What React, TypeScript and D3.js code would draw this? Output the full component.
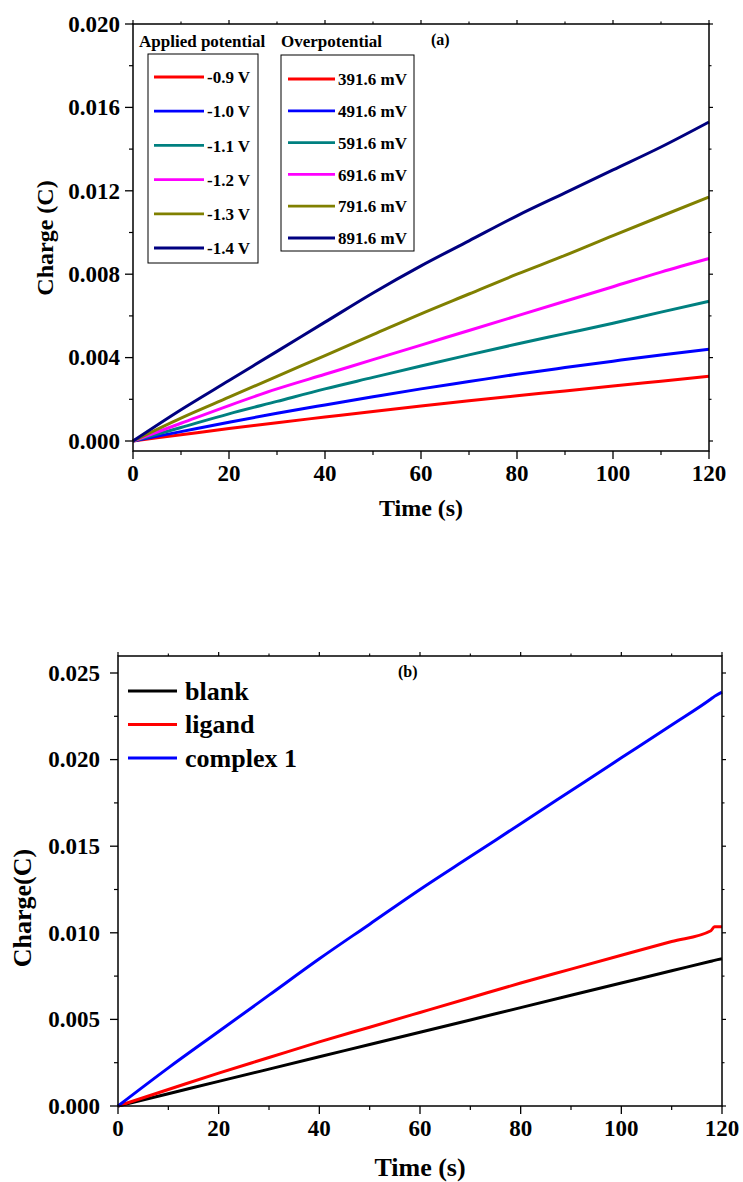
import React from 'react';
import * as d3 from 'd3';

// ---------- Data: panel (a) ----------
const timeA = [0, 10, 20, 30, 40, 50, 60, 70, 80, 90, 100, 110, 120];
const charge09 = [0, 0.0003, 0.0006, 0.00088, 0.00115, 0.00142, 0.00168, 0.00193, 0.00217, 0.0024, 0.00264, 0.00287, 0.0031];
const charge10 = [0, 0.00045, 0.0009, 0.00133, 0.00173, 0.00212, 0.0025, 0.00285, 0.0032, 0.00352, 0.00383, 0.00413, 0.0044];
const charge11 = [0, 0.00065, 0.0013, 0.0019, 0.0025, 0.00305, 0.0036, 0.00413, 0.00465, 0.00515, 0.00565, 0.00618, 0.0067];
const charge12 = [0, 0.00085, 0.0017, 0.0025, 0.0032, 0.0039, 0.0046, 0.0053, 0.006, 0.0067, 0.0074, 0.0081, 0.00875];
const charge13 = [0, 0.0011, 0.0021, 0.0031, 0.0041, 0.0051, 0.0061, 0.00705, 0.008, 0.0089, 0.00985, 0.01078, 0.0117];
const charge14 = [0, 0.0015, 0.0029, 0.0043, 0.0057, 0.0071, 0.0084, 0.0096, 0.0108, 0.0119, 0.013, 0.0141, 0.0153];
const appliedLabels = ['-0.9 V', '-1.0 V', '-1.1 V', '-1.2 V', '-1.3 V', '-1.4 V'];
const overLabels = ['391.6 mV', '491.6 mV', '591.6 mV', '691.6 mV', '791.6 mV', '891.6 mV'];
const colorsA = ['#ff0000', '#0000ff', '#008080', '#ff00ff', '#808000', '#000080'];
const xTicksA = [0, 20, 40, 60, 80, 100, 120];
const yTicksA = [0, 0.004, 0.008, 0.012, 0.016, 0.02];

// ---------- Data: panel (b) ----------
const timeB = [0, 10, 20, 30, 40, 50, 60, 70, 80, 90, 100, 110, 117.8, 118.5, 120];
const chargeBlank = [0, 0.00071, 0.00142, 0.00213, 0.00284, 0.00355, 0.00426, 0.00497, 0.00568, 0.00639, 0.0071, 0.00781, 0.00836, 0.00841, 0.0085];
const chargeLigand = [0, 0.00095, 0.0019, 0.0028, 0.0037, 0.00455, 0.0054, 0.00625, 0.0071, 0.0079, 0.0087, 0.0095, 0.01012, 0.01035, 0.01035];
const chargeComplex = [0, 0.0022, 0.0043, 0.0064, 0.0085, 0.0105, 0.0125, 0.0144, 0.0163, 0.0182, 0.0201, 0.022, 0.0235, 0.02365, 0.0239];
const labelsB = ['blank', 'ligand', 'complex 1'];
const colorsB = ['#000000', '#ff0000', '#0000ff'];
const xTicksB = [0, 20, 40, 60, 80, 100, 120];
const yTicksB = [0, 0.005, 0.01, 0.015, 0.02, 0.025];

const FONT = "'Liberation Serif', 'Times New Roman', serif";

type Frame = { x0: number; x1: number; yTop: number; yBot: number };

function Axes({ x, y, frame, xTicks, yTicks, xMinor, yMinor, fontSize, yLabelGap }: any) {
  const f: Frame = frame;
  const els: any[] = [];
  const fmt = d3.format('.3f');
  xTicks.forEach((t: number, i: number) => {
    const px = x(t);
    els.push(<line key={'xb' + i} x1={px} x2={px} y1={f.yBot} y2={f.yBot + 8} stroke="#000" strokeWidth={1.3} />);
    els.push(<line key={'xt' + i} x1={px} x2={px} y1={f.yTop} y2={f.yTop - 4} stroke="#000" strokeWidth={1.2} />);
    els.push(
      <text key={'xl' + i} x={px} y={f.yBot + 30} textAnchor="middle" fontFamily={FONT} fontWeight="bold" fontSize={fontSize}>
        {t}
      </text>
    );
  });
  xMinor.forEach((t: number, i: number) => {
    const px = x(t);
    els.push(<line key={'xmb' + i} x1={px} x2={px} y1={f.yBot} y2={f.yBot + 4} stroke="#000" strokeWidth={1.2} />);
    els.push(<line key={'xmt' + i} x1={px} x2={px} y1={f.yTop} y2={f.yTop - 2.5} stroke="#000" strokeWidth={1.1} />);
  });
  yTicks.forEach((t: number, i: number) => {
    const py = y(t);
    els.push(<line key={'yl' + i} x1={f.x0 - 8} x2={f.x0} y1={py} y2={py} stroke="#000" strokeWidth={1.3} />);
    els.push(<line key={'yr' + i} x1={f.x1} x2={f.x1 + 4} y1={py} y2={py} stroke="#000" strokeWidth={1.2} />);
    els.push(
      <text key={'ylab' + i} x={f.x0 - yLabelGap} y={py} dy="0.34em" textAnchor="end" fontFamily={FONT} fontWeight="bold" fontSize={fontSize}>
        {fmt(t)}
      </text>
    );
  });
  yMinor.forEach((t: number, i: number) => {
    const py = y(t);
    els.push(<line key={'yml' + i} x1={f.x0 - 4} x2={f.x0} y1={py} y2={py} stroke="#000" strokeWidth={1.2} />);
    els.push(<line key={'ymr' + i} x1={f.x1} x2={f.x1 + 2.5} y1={py} y2={py} stroke="#000" strokeWidth={1.1} />);
  });
  els.push(
    <rect key="frame" x={f.x0} y={f.yTop} width={f.x1 - f.x0} height={f.yBot - f.yTop} fill="none" stroke="#000" strokeWidth={1.5} />
  );
  return <g>{els}</g>;
}

export default function App() {
  // Panel (a)
  const frameA: Frame = { x0: 133, x1: 709, yTop: 24, yBot: 451 };
  const xA = d3.scaleLinear().domain([0, 120]).range([frameA.x0, frameA.x1]);
  const yA = d3.scaleLinear().domain([0, 0.02]).range([441, 24]);
  const seriesA = [charge09, charge10, charge11, charge12, charge13, charge14];
  const lineA = d3
    .line<number>()
    .x((_, i) => xA(timeA[i]))
    .y((d) => yA(d))
    .curve(d3.curveMonotoneX);

  // Panel (b)
  const frameB: Frame = { x0: 118, x1: 722, yTop: 656, yBot: 1106 };
  const xB = d3.scaleLinear().domain([0, 120]).range([frameB.x0, frameB.x1]);
  const yB = d3.scaleLinear().domain([0, 0.025]).range([1106, 673]);
  const seriesB = [chargeBlank, chargeLigand, chargeComplex];
  const lineB = d3
    .line<number>()
    .x((_, i) => xB(timeB[i]))
    .y((d) => yB(d))
    .curve(d3.curveMonotoneX);

  const minorX = d3.range(10, 120, 20);
  const minorYA = d3.range(0.002, 0.02, 0.004);
  const minorYB = d3.range(0.0025, 0.025, 0.005);

  const legendRowA = (i: number) => 77 + i * 34.2;
  const legendRowO = (i: number) => 79 + i * 31.8;
  const legendRowB = (i: number) => 691 + i * 33.5;

  return (
    <svg width={743} height={1182} style={{ position: 'absolute', left: 0, top: 0, background: '#fff' }}>
      {/* ---------- Panel (a) ---------- */}
      <g>
        {seriesA.map((s, i) => (
          <path key={'a' + i} d={lineA(s) || ''} fill="none" stroke={colorsA[i]} strokeWidth={3} />
        ))}
        <Axes x={xA} y={yA} frame={frameA} xTicks={xTicksA} yTicks={yTicksA} xMinor={minorX} yMinor={minorYA} fontSize={23} yLabelGap={13} />
        <text x={421} y={516} textAnchor="middle" fontFamily={FONT} fontWeight="bold" fontSize={24}>
          Time (s)
        </text>
        <text
          transform={`translate(53,238) rotate(-90)`}
          textAnchor="middle"
          fontFamily={FONT}
          fontWeight="bold"
          fontSize={24}
        >
          Charge (C)
        </text>
        <text x={431} y={45} fontFamily={FONT} fontWeight="bold" fontSize={16}>
          (a)
        </text>
        {/* legend applied potential */}
        <text x={139} y={47} fontFamily={FONT} fontWeight="bold" fontSize={17}>
          Applied potential
        </text>
        <rect x={148} y={54} width={110} height={209} fill="none" stroke="#000" strokeWidth={1} />
        {appliedLabels.map((l, i) => (
          <g key={'la' + i}>
            <line x1={154} x2={204} y1={legendRowA(i)} y2={legendRowA(i)} stroke={colorsA[i]} strokeWidth={2.8} />
            <text x={207} y={legendRowA(i)} dy="0.36em" fontFamily={FONT} fontWeight="bold" fontSize={17}>
              {l}
            </text>
          </g>
        ))}
        {/* legend overpotential */}
        <text x={281} y={47} fontFamily={FONT} fontWeight="bold" fontSize={17}>
          Overpotential
        </text>
        <rect x={281} y={55} width={133} height={196} fill="none" stroke="#000" strokeWidth={1} />
        {overLabels.map((l, i) => (
          <g key={'lo' + i}>
            <line x1={288} x2={335} y1={legendRowO(i)} y2={legendRowO(i)} stroke={colorsA[i]} strokeWidth={2.8} />
            <text x={338} y={legendRowO(i)} dy="0.36em" fontFamily={FONT} fontWeight="bold" fontSize={17}>
              {l}
            </text>
          </g>
        ))}
      </g>

      {/* ---------- Panel (b) ---------- */}
      <g>
        {seriesB.map((s, i) => (
          <path key={'b' + i} d={lineB(s) || ''} fill="none" stroke={colorsB[i]} strokeWidth={3} />
        ))}
        <Axes x={xB} y={yB} frame={frameB} xTicks={xTicksB} yTicks={yTicksB} xMinor={minorX} yMinor={minorYB} fontSize={23} yLabelGap={18} />
        <text x={420} y={1176} textAnchor="middle" fontFamily={FONT} fontWeight="bold" fontSize={26}>
          Time (s)
        </text>
        <text
          transform={`translate(31,908) rotate(-90)`}
          textAnchor="middle"
          fontFamily={FONT}
          fontWeight="bold"
          fontSize={26}
        >
          Charge(C)
        </text>
        <text x={398} y={677} fontFamily={FONT} fontWeight="bold" fontSize={16}>
          (b)
        </text>
        {labelsB.map((l, i) => (
          <g key={'lb' + i}>
            <line x1={128} x2={177} y1={legendRowB(i)} y2={legendRowB(i)} stroke={colorsB[i]} strokeWidth={2.8} />
            <text x={185} y={legendRowB(i)} dy="0.33em" fontFamily={FONT} fontWeight="bold" fontSize={26}>
              {l}
            </text>
          </g>
        ))}
      </g>
    </svg>
  );
}
